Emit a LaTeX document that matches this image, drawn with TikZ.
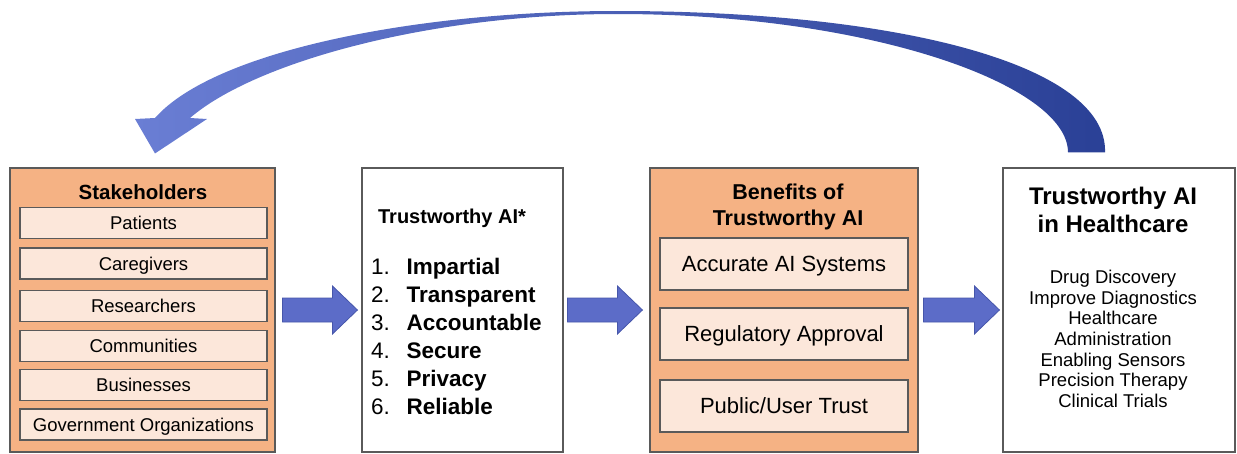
\documentclass[tikz,border=0pt]{standalone}
\usepackage{fontspec}
\setmainfont{Liberation Sans}
\usetikzlibrary{calc}

\definecolor{panelorange}{RGB}{245,178,132}
\definecolor{itemfill}{RGB}{252,231,218}
\definecolor{edgegray}{RGB}{90,90,90}
\definecolor{arrowblue}{RGB}{92,108,200}
\definecolor{arrowedge}{RGB}{70,86,170}
\definecolor{loopdark}{RGB}{42,64,150}
\definecolor{looplight}{RGB}{106,126,212}

% block arrow from a start point to a tip point (body half height 12, head half height 24)
\newcommand\flowarrow[2]{%
  \draw[flow] ($(#1)+(0,-12)$) -- ($(#2)+(-25,-12)$) -- ($(#2)+(-25,-24)$)
    -- (#2) -- ($(#2)+(-25,24)$) -- ($(#2)+(-25,12)$) -- ($(#1)+(0,12)$) -- cycle;}

\begin{document}
\begin{tikzpicture}[x=1pt,y=-1pt,
  panel/.style={draw=edgegray, line width=1.1pt, inner sep=0pt, minimum height=284},
  orangepanel/.style={panel, fill=panelorange},
  whitepanel/.style={panel, fill=white},
  subitem/.style={draw=edgegray, line width=1.1pt, fill=itemfill, inner sep=0pt},
  stitem/.style={subitem, minimum width=247, minimum height=31,
    font=\fontsize{18.5}{22}\selectfont, text height=13.2pt, text depth=0pt},
  bitem/.style={subitem, minimum width=248, minimum height=52,
    font=\fontsize{22}{26}\selectfont, text height=15.8pt, text depth=0pt},
  title/.style={inner sep=0pt, font=\bfseries\fontsize{#1}{#1}\selectfont,
    text height=0.716*#1pt, text depth=0pt},
  listnum/.style={inner sep=0pt, anchor=west, font=\fontsize{22.5}{26}\selectfont,
    text height=16.1pt, text depth=0pt},
  listword/.style={listnum, font=\bfseries\fontsize{22.5}{26}\selectfont},
  hcitem/.style={inner sep=0pt, font=\fontsize{18.5}{22}\selectfont,
    text height=13.2pt, text depth=0pt},
  flow/.style={fill=arrowblue, draw=arrowedge, line width=0.8pt, line join=miter},
]
\useasboundingbox (0,0) rectangle (1237,453);

% the four panels
\node[orangepanel, minimum width=265] (sh) at (142.5,310) {};
\node[whitepanel,  minimum width=201] (ta) at (462.5,310) {};
\node[orangepanel, minimum width=268] (be) at (784,310) {};
\node[whitepanel,  minimum width=232] (hc) at (1119,310) {};

% stakeholders
\node[title=20.5] (shT) at (143,192) {Stakeholders};
\foreach \t/\y [count=\k] in {Patients/223, Caregivers/263.5, Researchers/306,
    Communities/346, Businesses/385, Government Organizations/424.5}
  \node[stitem] (st\k) at (143.5,\y) {\t};

% trustworthy AI principles
\node[title=20] (taT) at (452,216) {Trustworthy AI*};
\foreach \w [count=\k] in {Impartial, Transparent, Accountable, Secure, Privacy, Reliable} {
  \node[listnum]  (num\k) at (371,{266+(\k-1)*28}) {\k.};
  \node[listword] (att\k) at (406.5,{266+(\k-1)*28}) {\w};
}

% benefits
\node[title=21.5] (beT1) at (788,192) {Benefits of};
\node[title=21.5] (beT2) at (788,218) {Trustworthy AI};
\node[bitem] (b1) at (784,264) {Accurate AI Systems};
\node[bitem] (b2) at (784,334) {Regulatory Approval};
\node[bitem] (b3) at (784,406) {Public/User Trust};

% healthcare applications
\node[title=24] (hcT1) at (1113,196) {Trustworthy AI};
\node[title=24] (hcT2) at (1113,224) {in Healthcare};
\foreach \t [count=\k] in {Drug Discovery, Improve Diagnostics, Healthcare, Administration,
    Enabling Sensors, Precision Therapy, Clinical Trials}
  \node[hcitem] (hi\k) at (1113,{277+(\k-1)*20.6}) {\t};

% flow arrows between panels
\coordinate (f1s) at ($(sh.east)+(7,0)$);  \coordinate (f1t) at ($(ta.west)+(-4,0)$);
\coordinate (f2s) at ($(ta.east)+(4,0)$);  \coordinate (f2t) at ($(be.west)+(-7,0)$);
\coordinate (f3s) at ($(be.east)+(5,0)$);  \coordinate (f3t) at ($(hc.west)+(-3,0)$);
\flowarrow{f1s}{f1t}
\flowarrow{f2s}{f2t}
\flowarrow{f3s}{f3t}

% feedback loop from healthcare back to stakeholders
\coordinate (loopR) at ($(hc.north)+(-14,-15)$);
\coordinate (loopL) at ($(hc.north)+(-51,-15)$);
\coordinate (loopTip) at ($(sh.north)+(12.5,-14)$);
\shade[left color=looplight, right color=loopdark]
  (loopR) .. controls (1108,65) and (900,11) .. (617,11)
  .. controls (420,11) and (215,50) .. (155,118)
  -- (135,119) -- (loopTip) -- (207,119) -- (190,118)
  .. controls (255,62) and (430,14) .. (617,14)
  .. controls (870,14) and (1068,85) .. (loopL) -- cycle;
\end{tikzpicture}
\end{document}
